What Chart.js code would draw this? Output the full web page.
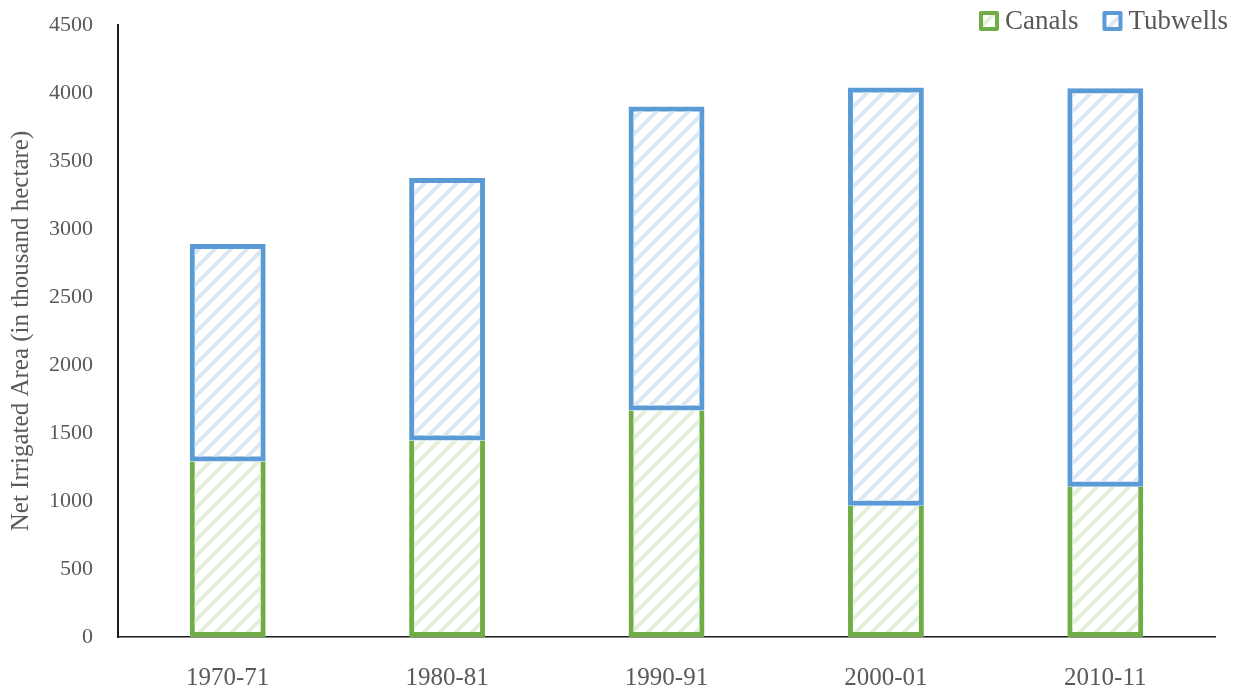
<!DOCTYPE html>
<html>
<head>
<meta charset="utf-8">
<title>Net Irrigated Area</title>
<script src="https://cdn.jsdelivr.net/npm/chart.js@4/dist/chart.umd.min.js"></script>
<style>
  html, body { margin: 0; padding: 0; background: #fff; }
  #wrap { width: 1241px; height: 693px; }
</style>
</head>
<body>
<div id="wrap"><canvas id="irrigation" width="1241" height="693"></canvas></div>
<script>
// ============================
// Data (thousand hectare)
// ============================
const years = ["1970-71", "1980-81", "1990-91", "2000-01", "2010-11"];
const canals = [1290, 1445, 1665, 965, 1105];
const tubwells = [1600, 1930, 2235, 3075, 2930];

const FONT = "'Liberation Serif', 'DejaVu Serif', serif";
const TEXT = "#595959";

// upward diagonal hatch used for the bar fills
function hatch(stripe) {
    const size = 16;
    const c = document.createElement("canvas");
    c.width = size; c.height = size;
    const g = c.getContext("2d");
    g.strokeStyle = stripe;
    g.lineWidth = 4;
    g.beginPath();
    g.moveTo(-size / 2, size / 2); g.lineTo(size / 2, -size / 2);
    g.moveTo(0, size); g.lineTo(size, 0);
    g.moveTo(size / 2, size * 1.5); g.lineTo(size * 1.5, size / 2);
    g.stroke();
    return g.createPattern(c, "repeat");
}

const greenLine = "#70ad47", blueLine = "#5b9bd5";
const greenFill = hatch("#e2efda"), blueFill = hatch("#dae7f5");

// small legend in the top right corner, drawn after everything else
const cornerLegend = {
    id: "cornerLegend",
    afterDraw(chart) {
        const ctx = chart.ctx;
        ctx.save();
        ctx.font = `27px ${FONT}`;
        ctx.textBaseline = "middle";
        let x = chart.width - 13;
        const y = 21;
        chart.data.datasets.slice().reverse().forEach(ds => {
            const w = ctx.measureText(ds.label).width;
            ctx.fillStyle = TEXT;
            ctx.fillText(ds.label, x - w, y + 1);
            const bx = x - w - 26;
            ctx.fillStyle = "#fff";
            ctx.fillRect(bx, y - 10, 20, 20);
            ctx.fillStyle = ds.backgroundColor;
            ctx.fillRect(bx, y - 10, 20, 20);
            ctx.strokeStyle = ds.borderColor;
            ctx.lineWidth = 4;
            ctx.lineJoin = "round";
            ctx.strokeRect(bx + 2, y - 8, 16, 16);
            x = bx - 24;
        });
        ctx.restore();
    }
};

new Chart(document.getElementById("irrigation"), {
    type: "bar",
    data: {
        labels: years,
        datasets: [
            {
                label: "Canals", data: canals,
                backgroundColor: greenFill, borderColor: greenLine,
                borderWidth: 5, borderSkipped: "end"
            },
            {
                label: "Tubwells", data: tubwells,
                backgroundColor: blueFill, borderColor: blueLine,
                borderWidth: 5, borderSkipped: false
            }
        ]
    },
    options: {
        responsive: false,
        animation: false,
        datasets: { bar: { categoryPercentage: 1, barPercentage: 0.346 } },
        layout: { padding: { top: 25, right: 26, left: 0, bottom: 0 } },
        plugins: { legend: { display: false }, tooltip: { enabled: false } },
        scales: {
            x: {
                stacked: true,
                grid: { display: false, drawTicks: false },
                border: { display: true, color: "#1a1a1a", width: 1.5 },
                ticks: { color: TEXT, font: { family: FONT, size: 25 }, padding: 26 },
                afterFit: s => { s.height = 56; s.paddingLeft = 0; s.paddingRight = 0; }
            },
            y: {
                stacked: true,
                min: 0, max: 4500,
                grid: { display: false, drawTicks: false },
                border: { display: true, color: "#1a1a1a", width: 2 },
                ticks: {
                    stepSize: 500, color: TEXT, padding: 25,
                    font: { family: FONT, size: 22 },
                    callback: v => String(v)
                },
                title: {
                    display: true,
                    text: "Net Irrigated Area (in thousand hectare)",
                    color: TEXT,
                    font: { family: FONT, size: 25 },
                    padding: { top: 6, bottom: 0 }
                },
                afterFit: s => { s.width = 118; s.paddingTop = 0; s.paddingBottom = 0; }
            }
        }
    },
    plugins: [cornerLegend]
});
</script>
</body>
</html>
